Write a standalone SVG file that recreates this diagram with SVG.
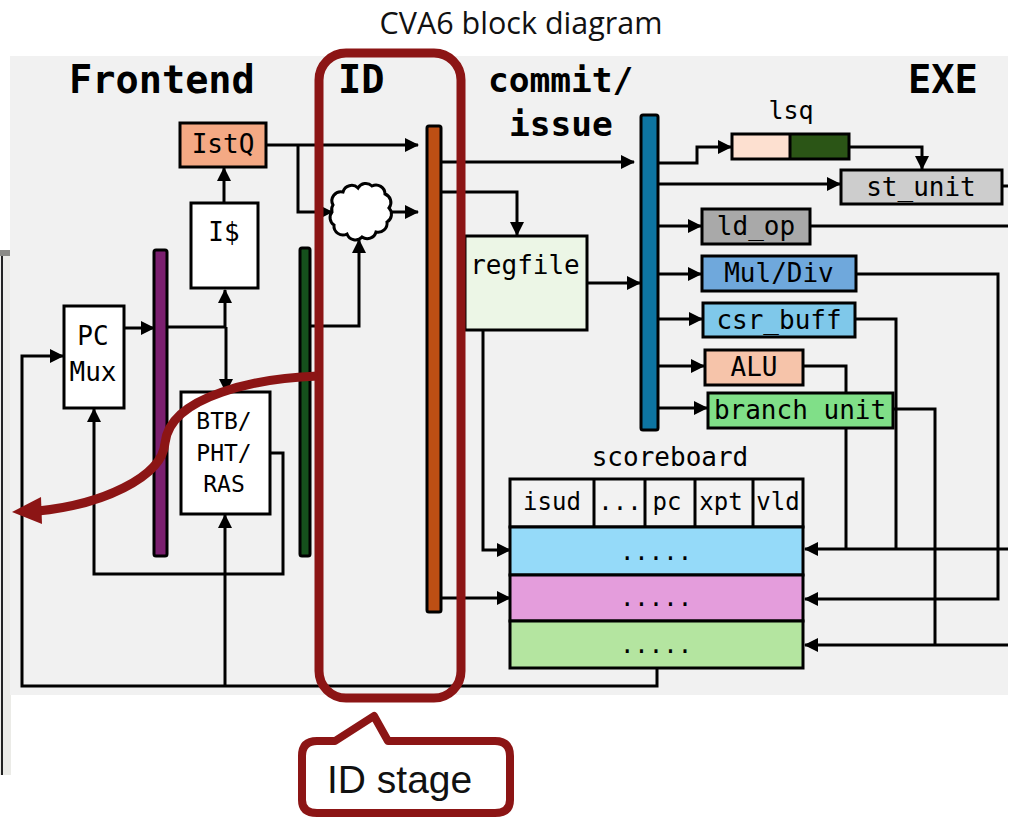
<svg xmlns="http://www.w3.org/2000/svg" width="1011" height="817" viewBox="0 0 1011 817">
<style>
.t{font-family:"DejaVu Sans Mono",monospace;font-size:26px;fill:#000;text-anchor:middle}
.h{font-family:"DejaVu Sans Mono",monospace;font-weight:bold;fill:#000}
.s{font-size:23px}
.u{font-size:24px}
.box{stroke:#000;stroke-width:3}
.bar{stroke:#000;stroke-width:3}
.c{fill:none;stroke:#000;stroke-width:3}
.a{marker-end:url(#ah)}
.m{fill:none;stroke:#8c1515;stroke-width:9}
</style>
<defs>
<marker id="ah" markerUnits="userSpaceOnUse" markerWidth="14" markerHeight="14" refX="13" refY="7" orient="auto-start-reverse"><path d="M0,0L14,7L0,14Z" fill="#000"/></marker>
</defs>
<rect width="1011" height="817" fill="#fff"/>
<g id="backdrop">
<rect x="0" y="250" width="11" height="525" fill="#ebebe7"/>
<rect x="0" y="250" width="11" height="6" fill="#8a8a86"/>
<rect x="1" y="256" width="2" height="519" fill="#222"/>
<rect x="10" y="56" width="998" height="639" fill="#f1f1f1"/>
</g>
<text x="521" y="34" text-anchor="middle" style="font-family:'Open Sans','Noto Sans',sans-serif;font-size:30.5px;fill:#111">CVA6 block diagram</text>
<g id="headings">
<text class="h" x="69" y="93" font-size="38.6">Frontend</text>
<text class="h" x="338" y="93" font-size="38.6">ID</text>
<text class="h" x="488" y="92" font-size="34.5">commit/</text>
<text class="h" x="509" y="136" font-size="34.5">issue</text>
<text class="h" x="908" y="93" font-size="38.6">EXE</text>
<text class="t" x="791" y="119" style="font-size:25px">lsq</text>
<text class="t" x="670" y="466">scoreboard</text>
</g>
<g id="connectors">
<path class="c a" d="M266,145H418"/>
<path class="c a" d="M298,145V212H332"/>
<path class="c a" d="M390,212H418"/>
<path class="c a" d="M224,203V168"/>
<path class="c a" d="M124,328H154"/>
<path class="c" d="M167,327H226"/>
<path class="c a" d="M225,327V290"/>
<path class="c a" d="M226,327V392"/>
<path class="c a" d="M310,326H359V240"/>
<path class="c a" d="M441,162H634"/>
<path class="c a" d="M441,192H517V235"/>
<path class="c a" d="M587,283H640"/>
<path class="c a" d="M483,330V550H510"/>
<path class="c a" d="M441,598H510"/>
<path class="c a" d="M658,163H697V147H731"/>
<path class="c a" d="M849,147H922V169"/>
<path class="c a" d="M658,184H840"/>
<path class="c" d="M1002,186H1008"/>
<path class="c a" d="M658,226H701"/>
<path class="c" d="M810,226H1008"/>
<path class="c a" d="M658,274H701"/>
<path class="c a" d="M856,274H998V599H805"/>
<path class="c a" d="M658,319H702"/>
<path class="c" d="M855,319H896V549"/>
<path class="c a" d="M658,366H704"/>
<path class="c" d="M803,366H846V393M846,428V549"/>
<path class="c a" d="M658,408H707"/>
<path class="c" d="M893,409H935V645"/>
<path class="c a" d="M1008,549H805"/>
<path class="c a" d="M1008,645H805"/>
<path class="c a" d="M657,668V686H22V356H63"/>
<path class="c a" d="M225,686V515"/>
<path class="c a" d="M270,453H283V574H94V409"/>
</g>
<g id="istq"><rect class="box" x="180" y="123" width="86" height="44" fill="#f4a984"/><text class="t" x="223" y="153">IstQ</text></g>
<g id="icache"><rect class="box" x="191" y="203" width="67" height="85" fill="#fff"/><text class="t" x="224" y="241">I$</text></g>
<g id="pcmux"><rect class="box" x="64" y="306" width="60" height="102" fill="#fff"/><text class="t" x="93" y="345">PC</text><text class="t" x="93" y="381">Mux</text></g>
<g id="btb"><rect class="box" x="181" y="392" width="89" height="122" fill="#fff"/><text class="t s" x="224" y="429">BTB/</text><text class="t s" x="224" y="461">PHT/</text><text class="t s" x="224" y="492">RAS</text></g>
<g id="bar-purple"><rect class="bar" x="154" y="250" width="13" height="306" rx="2" fill="#7b1f6f"/></g>
<g id="bar-green"><rect class="bar" x="300" y="248" width="10" height="308" rx="2" fill="#15501c"/></g>
<g id="bar-orange"><rect class="bar" x="427" y="126" width="14" height="486" rx="2" fill="#bd4f14"/></g>
<g id="bar-blue"><rect class="bar" x="641" y="115" width="17" height="315" rx="2" fill="#0d74a1"/></g>
<g id="cloud"><path d="M333,205a9,9 0 0 1 10,-13a9,9 0 0 1 15,-4a9,9 0 0 1 14,-2a9,9 0 0 1 13,8a9,9 0 0 1 4,14a9,9 0 0 1 -2,14a9,9 0 0 1 -11,10a9,9 0 0 1 -14,5a9,9 0 0 1 -15,-3a9,9 0 0 1 -13,-9a9,9 0 0 1 -2,-13a8,8 0 0 1 1,-7Z" fill="#fff" stroke="#000" stroke-width="3"/></g>
<g id="regfile"><rect class="box" x="465" y="236" width="122" height="94" fill="#ecf6e6"/><text class="t" x="525" y="274">regfile</text></g>
<g id="lsq"><rect x="732" y="134" width="58" height="25" fill="#fde0d0"/><rect x="790" y="134" width="59" height="25" fill="#2b5516"/><rect class="box" x="732" y="134" width="117" height="25" fill="none"/><path class="box" d="M790,134V159"/></g>
<g id="st_unit"><rect class="box" x="841" y="170" width="161" height="34" fill="#cdcdcd"/><text class="t" x="921" y="196">st_unit</text></g>
<g id="ld_op"><rect class="box" x="702" y="209" width="108" height="35" fill="#a9a9a9"/><text class="t" x="756" y="235">ld_op</text></g>
<g id="muldiv"><rect class="box" x="702" y="256" width="154" height="35" fill="#6fa8dc"/><text class="t" x="779" y="282">Mul/Div</text></g>
<g id="csr_buff"><rect class="box" x="703" y="303" width="152" height="34" fill="#7fc8ea"/><text class="t" x="779" y="329">csr_buff</text></g>
<g id="alu"><rect class="box" x="705" y="350" width="98" height="35" fill="#f6c4aa"/><text class="t" x="754" y="376">ALU</text></g>
<g id="branch"><rect class="box" x="708" y="393" width="185" height="35" fill="#80df88"/><text class="t" x="800" y="419">branch unit</text></g>
<g id="scoreboard">
<rect class="box" x="510" y="479" width="293" height="48" fill="#f2f2f2"/>
<rect class="box" x="510" y="527" width="293" height="48" fill="#95daf9"/>
<rect class="box" x="510" y="575" width="293" height="46" fill="#e49ddc"/>
<rect class="box" x="510" y="621" width="293" height="47" fill="#b4e5a0"/>
<path class="box" d="M594,479V527M645,479V527M695,479V527M753,479V527"/>
<text class="t u" x="552" y="510">isud</text><text class="t u" x="620" y="510">...</text><text class="t u" x="667" y="510">pc</text><text class="t u" x="721" y="510">xpt</text><text class="t u" x="778" y="510">vld</text>
<text class="t u" x="656" y="560">.....</text><text class="t u" x="656" y="606">.....</text><text class="t u" x="656" y="653">.....</text>
</g>
<g id="highlight">
<rect class="m" x="319" y="53" width="142" height="645" rx="27"/>
<path d="M318,376C260,378 170,395 165,443C162,478 100,505 38,511" fill="none" stroke="#8c1515" stroke-width="9"/>
<path d="M12,512L41,497L42,524Z" fill="#8c1515"/>
</g>
<g id="callout">
<path d="M335,741L374,716L388,741H495Q510,741 510,756V800Q510,813 495,813H317Q302,813 302,800V756Q302,741 317,741Z" fill="#fff" stroke="#8c1515" stroke-width="8" stroke-linejoin="round"/>
<text x="327" y="793" style="font-family:'Liberation Sans',Arial,sans-serif;font-size:39px;fill:#111">ID stage</text>
</g>
</svg>
